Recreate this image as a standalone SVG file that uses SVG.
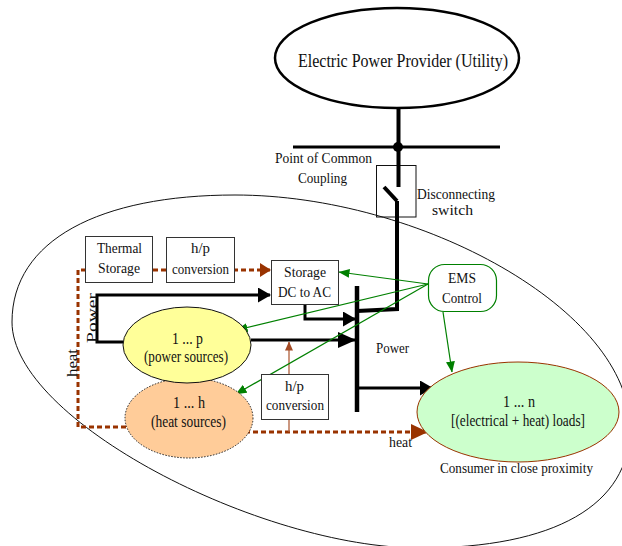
<svg xmlns="http://www.w3.org/2000/svg" width="622" height="546" viewBox="0 0 622 546">
  <style>
    text { font-family: "Liberation Serif", "Times New Roman", serif; fill: #111; }
    .t14 { font-size: 14px; }
    .t15 { font-size: 15px; }
    .t16 { font-size: 16px; }
    .t17 { font-size: 17px; }
    .box { fill: #fff; stroke: #333; stroke-width: 1; }
    .power { fill: none; stroke: #000; stroke-width: 3; }
    .heat { fill: none; stroke: #993300; stroke-width: 3; stroke-dasharray: 5 3; }
    .ctrl { fill: none; stroke: #008000; stroke-width: 1.2; }
    .hp { fill: none; stroke: #b0603c; stroke-width: 1.3; }
  </style>
  <defs>
    <marker id="ahBlk" viewBox="0 0 13 15" refX="12" refY="7.5" markerWidth="13" markerHeight="15" markerUnits="userSpaceOnUse" orient="auto">
      <path d="M0,0 L13,7.5 L0,15 z" fill="#000"/>
    </marker>
    <marker id="ahBlkL" viewBox="0 0 18 16" refX="17" refY="8" markerWidth="18" markerHeight="16" markerUnits="userSpaceOnUse" orient="auto">
      <path d="M0,0 L18,8 L0,16 z" fill="#000"/>
    </marker>
    <marker id="ahHeat" viewBox="0 0 11 14" refX="10" refY="7" markerWidth="11" markerHeight="14" markerUnits="userSpaceOnUse" orient="auto">
      <path d="M0,0 L11,7 L0,14 z" fill="#993300"/>
    </marker>
    <marker id="ahHeatL" viewBox="0 0 17 16" refX="16" refY="8" markerWidth="17" markerHeight="16" markerUnits="userSpaceOnUse" orient="auto">
      <path d="M0,0 L17,8 L0,16 z" fill="#993300"/>
    </marker>
    <marker id="ahCtrl" viewBox="0 0 11 9" refX="10.5" refY="4.5" markerWidth="11" markerHeight="9" markerUnits="userSpaceOnUse" orient="auto">
      <path d="M0,0 L11,4.5 L0,9 z" fill="#008000"/>
    </marker>
    <marker id="ahHp" viewBox="0 0 9 8" refX="8.5" refY="4" markerWidth="9" markerHeight="8" markerUnits="userSpaceOnUse" orient="auto">
      <path d="M0,0 L9,4 L0,8 z" fill="#a34a24"/>
    </marker>
  </defs>

  <!-- consumer premises boundary -->
  <g id="consumer-area">
    <path d="M12,322 C12,240 100,195 235,195 C420,195 630,310 630,428 C630,505 555,548 420,548 C260,548 12,420 12,322 Z" fill="none" stroke="#111" stroke-width="1"/>
    <text class="t15" x="516.5" y="473" text-anchor="middle" textLength="153" lengthAdjust="spacingAndGlyphs">Consumer in close proximity</text>
  </g>

  <!-- utility -->
  <g id="utility">
    <ellipse cx="397" cy="58" rx="122" ry="50" fill="#fff" stroke="#000" stroke-width="2.5"/>
    <text x="403" y="67" style="font-size:19px" text-anchor="middle" textLength="210" lengthAdjust="spacingAndGlyphs">Electric Power Provider (Utility)</text>
  </g>

  <!-- point of common coupling -->
  <g id="pcc">
    <line x1="293" y1="147" x2="500" y2="147" stroke="#000" stroke-width="3"/>
    <circle cx="398" cy="147" r="5" fill="#000"/>
    <text class="t14" x="323.5" y="163" text-anchor="middle" textLength="97" lengthAdjust="spacingAndGlyphs">Point of Common</text>
    <text class="t14" x="322.5" y="183" text-anchor="middle" textLength="49" lengthAdjust="spacingAndGlyphs">Coupling</text>
  </g>

  <!-- disconnecting switch -->
  <g id="switch">
    <rect x="376.5" y="165.5" width="39.5" height="51.5" fill="none" stroke="#111" stroke-width="1"/>
    <text class="t15" x="456" y="199" text-anchor="middle" textLength="78" lengthAdjust="spacingAndGlyphs">Disconnecting</text>
    <text class="t15" x="452.5" y="215" text-anchor="middle" textLength="41" lengthAdjust="spacingAndGlyphs">switch</text>
  </g>

  <!-- connectors -->
  <g id="connectors">
    <!-- utility feeder through the switch to the bus -->
    <path d="M398.5,108 V187" fill="none" stroke="#000" stroke-width="4"/>
    <path d="M384,187 L397,201" fill="none" stroke="#000" stroke-width="4"/>
    <path d="M397,201 V309 L357,311" fill="none" stroke="#000" stroke-width="4"/>
    <!-- AC bus -->
    <line x1="357" y1="286" x2="357" y2="412" stroke="#000" stroke-width="4.5"/>

    <!-- power flows -->
    <path class="power" d="M123,342 H97 V295 H270" marker-end="url(#ahBlk)"/>
    <path class="power" d="M305,305 V319 H355" marker-end="url(#ahBlk)"/>
    <path class="power" d="M251,340 H355" marker-end="url(#ahBlkL)"/>
    <path class="power" d="M357,388 H432" marker-end="url(#ahBlk)"/>

    <!-- heat flows -->
    <path class="heat" d="M126,427 H78 V270 H270" marker-end="url(#ahHeat)"/>
    <path class="heat" d="M245,432 H427" marker-end="url(#ahHeatL)"/>

    <!-- heat-to-power conversion link -->
    <path class="hp" d="M289,432 V420"/>
    <path class="hp" d="M289,374 V342" marker-end="url(#ahHp)"/>

    <!-- EMS control signals -->
    <path class="ctrl" d="M428,284 L339,272" marker-end="url(#ahCtrl)"/>
    <path class="ctrl" d="M428,284 L237,330" marker-end="url(#ahCtrl)"/>
    <path class="ctrl" d="M428,284 L236,394" marker-end="url(#ahCtrl)"/>
    <path class="ctrl" d="M443,312 L452,372" marker-end="url(#ahCtrl)"/>

    <!-- flow labels -->
    <text class="t15" transform="translate(97,318) rotate(-90)" text-anchor="middle" textLength="50" lengthAdjust="spacingAndGlyphs">Power</text>
    <text class="t15" transform="translate(77,363) rotate(-90)" text-anchor="middle" textLength="28" lengthAdjust="spacingAndGlyphs">heat</text>
    <text class="t15" x="392.5" y="353" text-anchor="middle" textLength="33" lengthAdjust="spacingAndGlyphs">Power</text>
    <text class="t15" x="400.5" y="447" text-anchor="middle" textLength="23" lengthAdjust="spacingAndGlyphs">heat</text>
  </g>

  <!-- thermal storage -->
  <g id="thermal-storage">
    <rect class="box" x="85.5" y="236.5" width="67" height="46"/>
    <text class="t15" x="119.5" y="253" text-anchor="middle" textLength="45" lengthAdjust="spacingAndGlyphs">Thermal</text>
    <text class="t15" x="119" y="273" text-anchor="middle" textLength="42" lengthAdjust="spacingAndGlyphs">Storage</text>
  </g>

  <!-- heat-to-power conversion (storage side) -->
  <g id="hp-conversion-1">
    <rect class="box" x="166.5" y="237.5" width="68" height="45"/>
    <text class="t15" x="200.5" y="253" text-anchor="middle" textLength="19" lengthAdjust="spacingAndGlyphs">h/p</text>
    <text class="t15" x="200.5" y="274" text-anchor="middle" textLength="57" lengthAdjust="spacingAndGlyphs">conversion</text>
  </g>

  <!-- electrical storage with inverter -->
  <g id="storage">
    <rect class="box" x="271.5" y="260.5" width="67" height="44"/>
    <text class="t15" x="305" y="277" text-anchor="middle" textLength="42" lengthAdjust="spacingAndGlyphs">Storage</text>
    <text class="t15" x="304.5" y="297" text-anchor="middle" textLength="53" lengthAdjust="spacingAndGlyphs">DC to AC</text>
  </g>

  <!-- heat sources -->
  <g id="heat-sources">
    <ellipse cx="189" cy="418" rx="64" ry="40" fill="#ffcc99" stroke="#222" stroke-width="1" stroke-dasharray="1.5 1.5"/>
    <text class="t17" x="189" y="408" text-anchor="middle" textLength="32" lengthAdjust="spacingAndGlyphs">1 ... h</text>
    <text class="t16" x="188.5" y="427" text-anchor="middle" textLength="75" lengthAdjust="spacingAndGlyphs">(heat sources)</text>
  </g>

  <!-- power sources -->
  <g id="power-sources">
    <ellipse cx="187" cy="345" rx="64" ry="38" fill="#ffff99" stroke="#111" stroke-width="1"/>
    <text class="t17" x="187.5" y="344" text-anchor="middle" textLength="31" lengthAdjust="spacingAndGlyphs">1 ... p</text>
    <text class="t16" x="186" y="362" text-anchor="middle" textLength="84" lengthAdjust="spacingAndGlyphs">(power sources)</text>
  </g>

  <!-- heat-to-power conversion (source side) -->
  <g id="hp-conversion-2">
    <rect class="box" x="261.5" y="374.5" width="67" height="45"/>
    <text class="t15" x="294.5" y="391" text-anchor="middle" textLength="19" lengthAdjust="spacingAndGlyphs">h/p</text>
    <text class="t15" x="295" y="410" text-anchor="middle" textLength="58" lengthAdjust="spacingAndGlyphs">conversion</text>
  </g>

  <!-- energy management system -->
  <g id="ems">
    <rect x="428.5" y="264.5" width="68" height="47" rx="16" ry="16" fill="#fff" stroke="#008000" stroke-width="1.2"/>
    <text class="t15" x="462" y="283" text-anchor="middle" textLength="28" lengthAdjust="spacingAndGlyphs">EMS</text>
    <text class="t15" x="462" y="303" text-anchor="middle" textLength="40" lengthAdjust="spacingAndGlyphs">Control</text>
  </g>

  <!-- loads -->
  <g id="loads">
    <ellipse cx="518" cy="412" rx="101" ry="50" fill="#ccffcc" stroke="#993300" stroke-width="1"/>
    <text class="t16" x="519" y="407" text-anchor="middle" textLength="32" lengthAdjust="spacingAndGlyphs">1 ... n</text>
    <text class="t16" x="518" y="426" text-anchor="middle" textLength="134" lengthAdjust="spacingAndGlyphs">[(electrical + heat) loads]</text>
  </g>
</svg>
